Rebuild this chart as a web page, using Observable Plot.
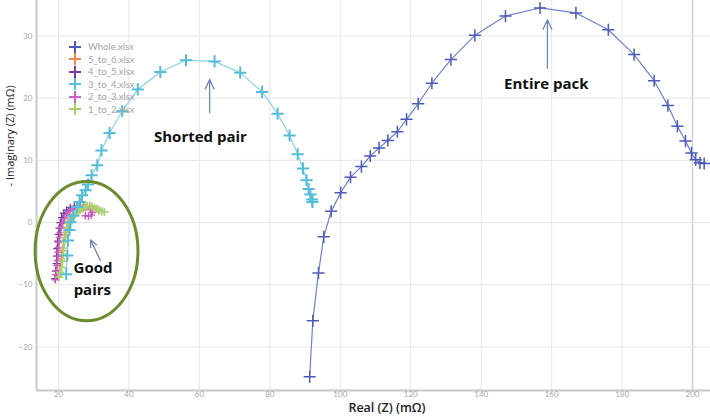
<!DOCTYPE html>
<html><head><meta charset="utf-8">
<script src="https://cdn.jsdelivr.net/npm/d3@7"></script>
<script src="https://cdn.jsdelivr.net/npm/@observablehq/plot@0.6"></script>
<style>
body{margin:0;background:#fff;font-family:Lato,"Open Sans",sans-serif}
#wrap{position:relative;width:710px;height:417px;overflow:hidden}
#legend{position:absolute;left:68px;top:40.5px;font-size:9.5px;color:#a4a4a4;font-family:Lato,sans-serif}
.row{height:12.5px;display:flex;align-items:center}
.row svg{margin-right:6px}
</style></head><body><div id="wrap"></div>
<script>
// Whole pack
const wholeX = [91.3, 92.2, 93.8, 95.3, 97.4, 100.1, 102.9, 106.0, 108.5, 111.0, 113.5, 116.2, 118.8, 122.1, 126.0, 131.4, 138.2, 146.9, 156.7, 166.9, 176.1, 183.4, 189.1, 193.0, 195.7, 198.0, 199.7, 200.9, 202.1, 203.3];
const wholeY = [-24.8, -15.8, -8.1, -2.3, 1.8, 4.8, 7.3, 9.0, 10.7, 12.0, 13.2, 14.6, 16.6, 19.1, 22.4, 26.2, 30.1, 33.2, 34.5, 33.7, 31.0, 27.0, 22.8, 18.8, 15.5, 13.1, 11.2, 10.1, 9.6, 9.5];
// 3_to_4 (shorted pair)
const p34X = [22.2, 22.5, 22.7, 23.1, 23.4, 24.2, 25.3, 26.0, 26.7, 27.7, 28.4, 29.4, 31.0, 32.2, 34.5, 38.1, 42.5, 48.9, 56.2, 64.3, 71.6, 77.8, 82.2, 85.6, 87.9, 89.4, 90.4, 91.0, 91.5, 92.0, 92.1];
const p34Y = [-8.3, -5.3, -2.9, -1.2, 0.05, 1.1, 2.5, 3.3, 4.4, 5.2, 6.1, 7.6, 9.2, 11.6, 14.4, 17.9, 21.4, 24.2, 26.1, 25.9, 24.1, 21.0, 17.5, 14.0, 11.0, 8.7, 6.8, 5.4, 4.5, 3.7, 3.3];
// 2_to_3
const p23X = [19.1, 19.3, 19.5, 19.6, 19.7, 19.8, 19.9, 20.0, 20.1, 20.3, 20.5, 20.8, 21.2, 21.7, 22.4, 23.2, 24.1, 25.1, 26.2, 27.2, 28.2, 29.0, 29.6, 29.3, 28.5, 27.6];
const p23Y = [-9.2, -8.4, -7.7, -6.9, -6.1, -5.4, -4.8, -4.0, -3.2, -2.4, -1.6, -0.8, -0.1, 0.6, 1.3, 1.8, 2.2, 2.5, 2.7, 2.7, 2.5, 2.1, 1.6, 1.2, 1.0, 1.1];
// 1_to_2
const p12X = [20.1, 20.5, 20.9, 21.1, 21.3, 21.5, 21.7, 21.9, 22.2, 22.5, 22.9, 23.4, 23.9, 24.6, 25.3, 26.0, 26.7, 27.4, 28.1, 28.8, 29.5, 30.2, 30.9, 31.6, 32.3, 33.0];
const p12Y = [-8.8, -8.0, -7.2, -6.2, -5.1, -4.1, -3.2, -2.4, -1.6, -0.9, -0.2, 0.4, 0.9, 1.3, 1.7, 2.0, 2.3, 2.5, 2.7, 2.7, 2.6, 2.4, 2.2, 2.0, 1.8, 1.7];
// 4_to_5
const p45X = [19.0, 19.2, 19.4, 19.5, 19.6, 19.8, 20.0, 20.2, 20.5, 20.9, 21.5, 22.3, 23.3, 24.5, 25.8, 27.0];
const p45Y = [-9.0, -7.8, -6.6, -5.4, -4.2, -3.0, -1.9, -0.9, 0.0, 0.8, 1.5, 2.0, 2.4, 2.6, 2.6, 2.4];
// 5_to_6
const p56X = [20.0, 20.4, 20.8, 21.1, 21.4, 21.8, 22.3, 23.0, 23.9, 25.0, 26.3, 27.6, 28.9, 30.2, 31.5];
const p56Y = [-8.6, -7.2, -5.8, -4.5, -3.2, -2.0, -0.9, 0.1, 0.9, 1.6, 2.1, 2.4, 2.5, 2.2, 1.9];

const legendNames = ["Whole.xlsx", "5_to_6.xlsx", "4_to_5.xlsx", "3_to_4.xlsx", "2_to_3.xlsx", "1_to_2.xlsx"];
const legendColors = ["#4b5bb7", "#f0884a", "#7a3a9e", "#58c0da", "#d05fc6", "#a9d06c"];
const xTicks = [20, 40, 60, 80, 100, 120, 140, 160, 180, 200];
const yTicks = [-20, -10, 0, 10, 20, 30];

const notes = [
  {t: "Shorted pair", x: 60.3, y: 13.7},
  {t: "Entire pack", x: 158.5, y: 22.2},
  {t: "Good", x: 29.8, y: -7.4},
  {t: "pairs", x: 29.6, y: -10.8}
];
const arrows = [
  {x1: 62.9, y1: 17.7, x2: 62.9, y2: 23.0},
  {x1: 158.8, y1: 24.8, x2: 158.8, y2: 32.6},
  {x1: 31.9, y1: -6.1, x2: 29.1, y2: -2.8}
];
const ellipse = {cx: 28.1, cy: -4.66, rx: 14.6, ry: 11.2};

function rows(name, xs, ys) { return xs.map((x, i) => ({name, x, y: ys[i]})); }
const s56 = rows("5_to_6.xlsx", p56X, p56Y);
const s45 = rows("4_to_5.xlsx", p45X, p45Y);
const s23 = rows("2_to_3.xlsx", p23X, p23Y);
const s12 = rows("1_to_2.xlsx", p12X, p12Y);
const s34 = rows("3_to_4.xlsx", p34X, p34Y);
const sW = rows("Whole.xlsx", wholeX, wholeY);

const xDom = [13.75, 205.1], yDom = [-27.0, 35.7];

function series(data, lineColor, dotColor, r, sw, lw) {
  return [
    Plot.line(data, {x: "x", y: "y", stroke: lineColor, strokeWidth: lw}),
    Plot.dot(data, {x: "x", y: "y", symbol: "plus", r, stroke: dotColor, strokeWidth: sw})
  ];
}

const chart = Plot.plot({
  width: 710, height: 417,
  marginLeft: 36, marginRight: 0, marginTop: 0, marginBottom: 27,
  style: {fontFamily: "Lato, 'Open Sans', sans-serif", background: "#fff"},
  x: {domain: xDom},
  y: {domain: yDom},
  marks: [
    Plot.gridX(xTicks.slice(0, -1), {stroke: "#e6e6e6", strokeOpacity: 1}),
    Plot.gridX(xTicks.slice(-1), {stroke: "#d2d2d2", strokeOpacity: 1, strokeWidth: 1.5}),
    Plot.gridY(yTicks, {stroke: "#e6e6e6", strokeOpacity: 1}),
    Plot.ruleX([xDom[0]], {stroke: "#c9c9c9", strokeWidth: 2}),
    Plot.ruleY([yDom[0]], {stroke: "#c9c9c9", strokeWidth: 2}),
    Plot.axisX(xTicks, {tickSize: 0, tickPadding: 1, fontSize: 8, fill: "#a8a8a8", label: null}),
    Plot.axisY(yTicks, {tickSize: 0, tickPadding: 4, fontSize: 8, fill: "#a8a8a8", label: null}),
    ...series(s56, "#f0884a", "#f0884a", 2.6, 1.3, 1),
    ...series(s45, "#7a3a9e", "#7a3a9e", 2.6, 1.3, 1),
    ...series(s23, "#d05fc6", "#cc5cc2", 2.6, 1.4, 1.2),
    ...series(s12, "#b6d87e", "#acd170", 2.8, 1.6, 1.2),
    ...series(s34, "#86d4e6", "#55bdd7", 4, 2, 1.2),
    ...series(sW, "#6f80cf", "#4b5bb7", 4, 1.5, 1.2),
    Plot.arrow(arrows, {x1: "x1", y1: "y1", x2: "x2", y2: "y2", stroke: "#6e86b6", strokeWidth: 1.3, headLength: 12, headAngle: 50}),
    Plot.text(notes, {x: "x", y: "y", text: "t", fontSize: 15, fontWeight: "bold", fill: "#111", fontFamily: "'Open Sans', sans-serif"}),
    Plot.text(["Real (Z) (mΩ)"], {frameAnchor: "bottom", dx: 13.5, dy: 21, fontSize: 12.5, fontWeight: 600, fill: "#222", fontFamily: "'Open Sans', sans-serif"}),
    Plot.text(["- Imaginary (Z) (mΩ)"], {frameAnchor: "left", dx: -26, dy: -9, rotate: -90, fontSize: 11, fill: "#222", fontFamily: "'Open Sans', sans-serif"})
  ]
});

const sx = chart.scale("x"), sy = chart.scale("y");
const cx = sx.apply(ellipse.cx), cy = sy.apply(ellipse.cy);
const rx = Math.abs(sx.apply(ellipse.cx + ellipse.rx) - cx);
const ry = Math.abs(sy.apply(ellipse.cy + ellipse.ry) - cy);
d3.select(chart).append("ellipse")
  .attr("cx", cx).attr("cy", cy).attr("rx", rx).attr("ry", ry)
  .attr("fill", "none").attr("stroke", "#6b8c2c").attr("stroke-width", 3);

const wrap = document.getElementById("wrap");
wrap.appendChild(chart);

const legend = document.createElement("div");
legend.id = "legend";
legendNames.forEach((n, i) => {
  const row = document.createElement("div");
  row.className = "row";
  row.innerHTML = `<svg width="14" height="12"><path d="M1,6H13M7,0V12" stroke="${legendColors[i]}" stroke-width="2" fill="none"/></svg><span>${n}</span>`;
  legend.appendChild(row);
});
wrap.appendChild(legend);
</script>
</body></html>
